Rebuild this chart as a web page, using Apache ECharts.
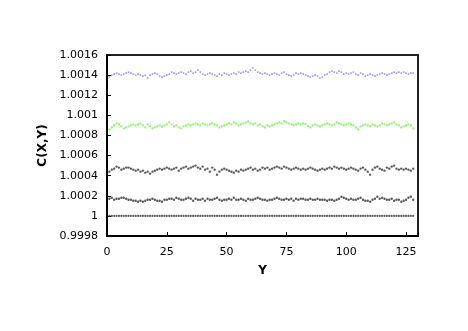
<!DOCTYPE html>
<html><head><meta charset="utf-8">
<script src="https://cdn.jsdelivr.net/npm/echarts@6/dist/echarts.min.js"></script>
<style>html,body{margin:0;padding:0;background:#fff}#c{width:468px;height:331px}</style>
</head><body><div id="c"></div>
<script>
const yTicks = ['0.9998','1','1.0002','1.0004','1.0006','1.0008','1.001','1.0012','1.0014','1.0016'];
const xTicks = [0,25,50,75,100,125];
const positions = Array.from({length:128},(_,i)=>i+1);
const blue = [1.00138,1.00140,1.00141,1.00142,1.00141,1.00140,1.00141,1.00142,1.00143,1.00142,
1.00141,1.00140,1.00141,1.00140,1.00139,1.00140,1.00137,1.00140,1.00141,1.00142,
1.00141,1.00139,1.00138,1.00139,1.00140,1.00141,1.00143,1.00142,1.00141,1.00142,
1.00143,1.00142,1.00141,1.00143,1.00144,1.00142,1.00143,1.00145,1.00143,1.00141,
1.00140,1.00141,1.00142,1.00141,1.00140,1.00139,1.00141,1.00140,1.00142,1.00141,
1.00140,1.00141,1.00142,1.00141,1.00143,1.00142,1.00143,1.00144,1.00143,1.00145,
1.00147,1.00145,1.00143,1.00142,1.00141,1.00142,1.00141,1.00140,1.00141,1.00142,
1.00141,1.00140,1.00142,1.00143,1.00141,1.00140,1.00139,1.00140,1.00142,1.00141,
1.00142,1.00141,1.00140,1.00139,1.00138,1.00139,1.00140,1.00139,1.00137,1.00138,
1.00140,1.00141,1.00143,1.00144,1.00143,1.00142,1.00144,1.00143,1.00141,1.00142,
1.00141,1.00142,1.00143,1.00141,1.00140,1.00142,1.00141,1.00139,1.00140,1.00141,
1.00140,1.00139,1.00140,1.00141,1.00142,1.00141,1.00140,1.00141,1.00142,1.00143,
1.00142,1.00143,1.00142,1.00143,1.00142,1.00141,1.00142,1.00142];
const green = [1.00086,1.00088,1.00090,1.00092,1.00091,1.00089,1.00087,1.00088,1.00089,1.00090,
1.00091,1.00090,1.00091,1.00092,1.00090,1.00088,1.00091,1.00089,1.00087,1.00088,
1.00089,1.00090,1.00089,1.00090,1.00091,1.00093,1.00091,1.00089,1.00090,1.00088,
1.00087,1.00089,1.00090,1.00091,1.00090,1.00091,1.00092,1.00091,1.00090,1.00092,
1.00091,1.00090,1.00091,1.00092,1.00091,1.00090,1.00088,1.00089,1.00090,1.00091,
1.00092,1.00091,1.00093,1.00092,1.00090,1.00091,1.00092,1.00093,1.00094,1.00092,
1.00091,1.00092,1.00090,1.00091,1.00089,1.00088,1.00090,1.00089,1.00090,1.00091,
1.00092,1.00093,1.00092,1.00094,1.00093,1.00092,1.00091,1.00090,1.00091,1.00092,
1.00091,1.00092,1.00091,1.00089,1.00088,1.00090,1.00091,1.00090,1.00089,1.00090,
1.00091,1.00092,1.00091,1.00090,1.00091,1.00093,1.00092,1.00091,1.00090,1.00091,
1.00092,1.00091,1.00090,1.00088,1.00086,1.00089,1.00090,1.00091,1.00090,1.00089,
1.00091,1.00090,1.00089,1.00090,1.00092,1.00091,1.00090,1.00091,1.00092,1.00093,
1.00091,1.00090,1.00088,1.00089,1.00090,1.00091,1.00090,1.00087];
const blackUpper = [1.00044,1.00046,1.00047,1.00049,1.00048,1.00046,1.00047,1.00048,1.00048,1.00047,
1.00046,1.00045,1.00046,1.00044,1.00045,1.00043,1.00044,1.00042,1.00044,1.00045,
1.00046,1.00047,1.00046,1.00047,1.00048,1.00047,1.00046,1.00047,1.00048,1.00045,
1.00047,1.00048,1.00049,1.00047,1.00048,1.00049,1.00050,1.00048,1.00047,1.00049,
1.00046,1.00047,1.00044,1.00048,1.00046,1.00041,1.00044,1.00046,1.00047,1.00046,
1.00045,1.00044,1.00043,1.00045,1.00044,1.00046,1.00045,1.00046,1.00047,1.00048,
1.00046,1.00047,1.00045,1.00046,1.00048,1.00047,1.00048,1.00046,1.00047,1.00048,
1.00049,1.00048,1.00047,1.00049,1.00048,1.00047,1.00046,1.00047,1.00048,1.00047,
1.00046,1.00047,1.00046,1.00047,1.00048,1.00047,1.00046,1.00045,1.00046,1.00047,
1.00046,1.00047,1.00048,1.00047,1.00049,1.00048,1.00047,1.00048,1.00047,1.00046,
1.00047,1.00048,1.00047,1.00046,1.00045,1.00047,1.00048,1.00046,1.00044,1.00041,
1.00046,1.00048,1.00049,1.00047,1.00046,1.00045,1.00048,1.00047,1.00049,1.00050,
1.00047,1.00046,1.00047,1.00046,1.00047,1.00046,1.00045,1.00047];
const blackLower = [1.00017,1.00018,1.00016,1.00017,1.00017,1.00018,1.00018,1.00017,1.00016,1.00016,
1.00015,1.00015,1.00014,1.00015,1.00014,1.00015,1.00016,1.00016,1.00017,1.00016,
1.00015,1.00015,1.00014,1.00016,1.00016,1.00017,1.00017,1.00016,1.00018,1.00017,
1.00016,1.00016,1.00017,1.00018,1.00017,1.00015,1.00017,1.00016,1.00016,1.00017,
1.00015,1.00017,1.00016,1.00016,1.00017,1.00018,1.00016,1.00015,1.00016,1.00016,
1.00017,1.00016,1.00018,1.00016,1.00016,1.00017,1.00016,1.00015,1.00017,1.00016,
1.00016,1.00017,1.00018,1.00017,1.00016,1.00016,1.00015,1.00016,1.00016,1.00017,
1.00018,1.00017,1.00016,1.00016,1.00017,1.00016,1.00017,1.00015,1.00017,1.00016,
1.00017,1.00017,1.00016,1.00016,1.00017,1.00016,1.00016,1.00017,1.00016,1.00016,
1.00016,1.00015,1.00016,1.00016,1.00015,1.00016,1.00017,1.00019,1.00018,1.00017,
1.00016,1.00017,1.00016,1.00016,1.00017,1.00018,1.00016,1.00015,1.00015,1.00014,
1.00016,1.00017,1.00019,1.00017,1.00018,1.00017,1.00016,1.00016,1.00017,1.00015,
1.00016,1.00016,1.00014,1.00015,1.00016,1.00018,1.00019,1.00016];
const baseline = [1,1,1,1,1,1,1,1,1,1,1,1,1,1,1,1,1,1,1,1,1,1,1,1,1,1,1,1,1,1,1,1,
1,1,1,1,1,1,1,1,1,1,1,1,1,1,1,1,1,1,1,1,1,1,1,1,1,1,1,1,1,1,1,1,
1,1,1,1,1,1,1,1,1,1,1,1,1,1,1,1,1,1,1,1,1,1,1,1,1,1,1,1,1,1,1,1,
1,1,1,1,1,1,1,1,1,1,1,1,1,1,1,1,1,1,1,1,1,1,1,1,1,1,1,1,1,1,1,1];

const pair = arr => positions.map((x,i)=>[x,arr[i]]);
const mk = (arr,color,symbol,size)=>({type:'scatter',data:pair(arr),symbol:symbol,symbolSize:size,
  itemStyle:{color:color},silent:true,animation:false});

const chart = echarts.init(document.getElementById('c'),null,{renderer:'canvas'});
chart.setOption({
  animation:false,
  backgroundColor:'#fff',
  grid:{left:107,top:55,right:50,bottom:95,show:true,borderColor:'#222',borderWidth:2,backgroundColor:'transparent'},
  xAxis:{type:'value',min:0,max:130,interval:25,
    name:'Y',nameLocation:'middle',nameGap:29,
    nameTextStyle:{fontFamily:'DejaVu Sans',fontWeight:'bold',fontSize:12,color:'#000'},
    axisLine:{show:true,lineStyle:{color:'#000',width:2}},
    axisTick:{show:true,inside:true,length:4,lineStyle:{color:'#000',width:1}},
    splitLine:{show:false},
    axisLabel:{fontFamily:'DejaVu Sans',fontSize:11,color:'#000',margin:11,
      formatter:v=>xTicks.includes(v)?String(v):''}},
  yAxis:{type:'value',min:0.9998,max:1.0016,interval:0.0002,
    name:'C(X,Y)',nameLocation:'middle',nameGap:43,
    nameTextStyle:{fontFamily:'DejaVu Sans',fontWeight:'bold',fontSize:12,color:'#000'},
    axisLine:{show:true,lineStyle:{color:'#000',width:2}},
    axisTick:{show:true,inside:true,length:4,lineStyle:{color:'#000',width:1}},
    splitLine:{show:false},
    axisLabel:{fontFamily:'DejaVu Sans',fontSize:11,color:'#000',margin:9,
      formatter:v=>{const s=parseFloat(v.toFixed(4)).toString();return yTicks.includes(s)?s:'';}}},
  series:[
    mk(baseline,'#333','circle',2.2),
    mk(blackLower,'#333','circle',2.4),
    mk(blackUpper,'#333','circle',2.4),
    mk(green,'#77ee55','rect',2),
    mk(blue,'#8080ff','rect',1.6)
  ]
});
</script></body></html>
